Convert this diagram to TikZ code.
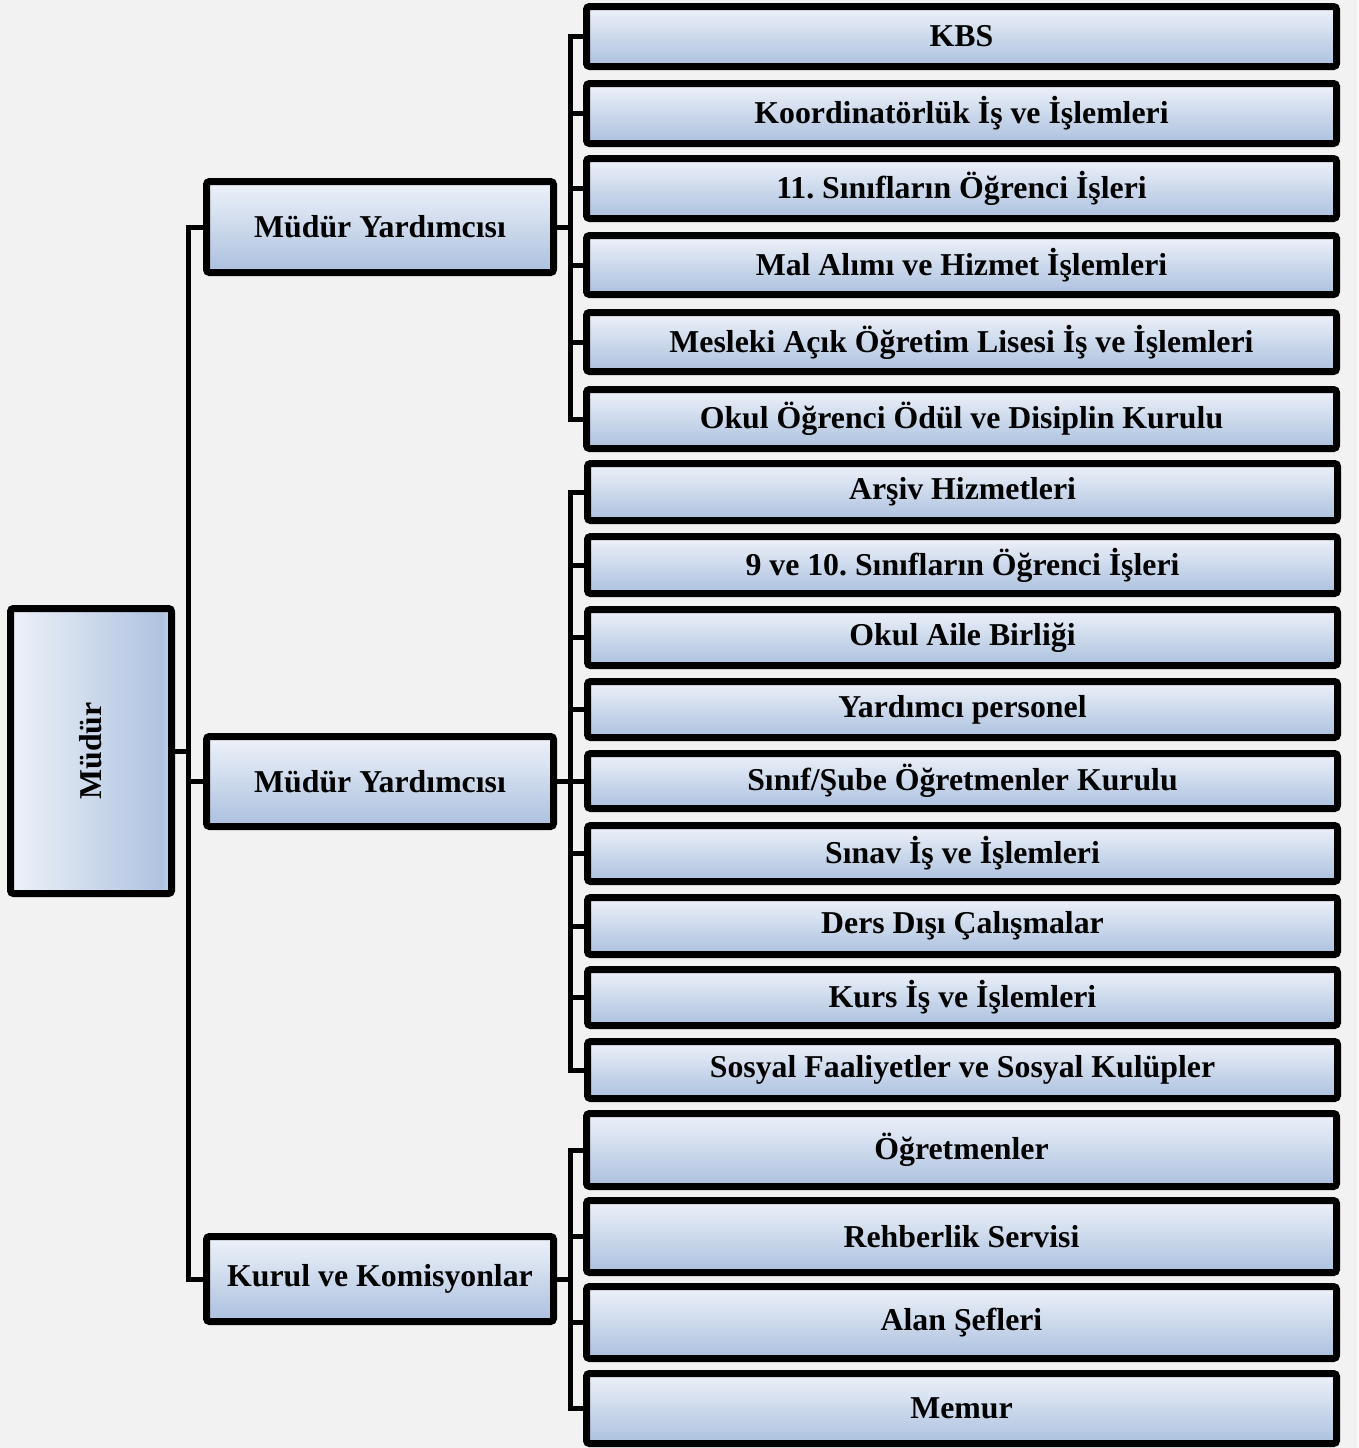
\documentclass[tikz,border=0pt]{standalone}
\usepackage{fontspec}
\setmainfont{Liberation Serif}

\definecolor{pagebg}{HTML}{F2F2F2}
\definecolor{shtop}{HTML}{EEF2F9}
\definecolor{shdark}{HTML}{AFC3E0}
\definecolor{shlow}{HTML}{C6D4E9}
\pgfdeclareverticalshading{boxfill}{100bp}{color(0bp)=(shlow); color(25bp)=(shlow); color(28bp)=(shdark); color(75bp)=(shtop); color(100bp)=(shtop)}
\pgfdeclarehorizontalshading{sidefill}{100bp}{color(0bp)=(shtop); color(25bp)=(shtop); color(72bp)=(shdark); color(75bp)=(shlow); color(100bp)=(shlow)}

\begin{document}
\frenchspacing
\begin{tikzpicture}[x=1pt, y=-1pt,
        box/.style={draw, shade, shading=boxfill, line width=7pt, rounded corners=3pt, inner sep=0pt,
            font=\fontsize{31.8}{36}\selectfont\bfseries},
        lead/.style={box, minimum width=347pt},
        unit/.style={box, minimum width=750pt},
        link/.style={line width=5pt}]
        \fill[pagebg] (0,0) rectangle (1358,1448);
        \useasboundingbox (0,0) rectangle (1358,1448);

        \node[box, shading=sidefill, rotate=90, minimum width=285pt, minimum height=161pt] (mud) at (91,751) {Müdür};

        \node[lead, minimum height=91pt] (my1) at (380,227) {Müdür Yardımcısı};
        \node[lead, minimum height=90pt] (my2) at (380,781.5) {Müdür Yardımcısı};
        \node[lead, minimum height=85pt] (kur) at (380,1279) {Kurul ve Komisyonlar};

        \node[unit, minimum height=60pt] (kbs) at (961.5,36.5) {KBS};
        \node[unit, minimum height=60pt] (koord) at (961.5,113.5) {Koordinatörlük İş ve İşlemleri};
        \node[unit, minimum height=60pt] (ogr11) at (961.5,188.5) {11. Sınıfların Öğrenci İşleri};
        \node[unit, minimum height=59pt] (mal) at (961.5,265) {Mal Alımı ve Hizmet İşlemleri};
        \node[unit, minimum height=59pt] (maol) at (961.5,342) {Mesleki Açık Öğretim Lisesi İş ve İşlemleri};
        \node[unit, minimum height=59pt] (odul) at (961.5,419) {Okul Öğrenci Ödül ve Disiplin Kurulu};

        \node[unit, minimum height=57pt] (arsiv) at (962.5,492) {Arşiv Hizmetleri};
        \node[unit, minimum height=57pt] (ogr910) at (962.5,565) {9 ve 10. Sınıfların Öğrenci İşleri};
        \node[unit, minimum height=56pt] (aile) at (962.5,637.5) {Okul Aile Birliği};
        \node[unit, minimum height=56pt] (pers) at (962.5,709.5) {Yardımcı personel};
        \node[unit, minimum height=55pt] (sube) at (962.5,781) {Sınıf/Şube Öğretmenler Kurulu};
        \node[unit, minimum height=56pt] (sinav) at (962.5,853.5) {Sınav İş ve İşlemleri};
        \node[unit, minimum height=57pt] (ders) at (962.5,926) {Ders Dışı Çalışmalar};
        \node[unit, minimum height=56pt] (kurs) at (962.5,997.5) {Kurs İş ve İşlemleri};
        \node[unit, minimum height=57pt] (sosyal) at (962.5,1070) {Sosyal Faaliyetler ve Sosyal Kulüpler};

        \node[unit, minimum height=73pt] (ogrt) at (961.5,1150) {Öğretmenler};
        \node[unit, minimum height=72pt] (rehber) at (961.5,1236.5) {Rehberlik Servisi};
        \node[unit, minimum height=72pt] (alan) at (961.5,1322.5) {Alan Şefleri};
        \node[unit, minimum height=70pt] (memur) at (961.5,1408.5) {Memur};

        % trunks
        \coordinate (t0) at (188,751);
        \coordinate (t1) at (570,227);
        \coordinate (t2) at (570,781.5);
        \coordinate (t3) at (570,1279);

        \draw[link] (mud.south) -- (t0);
        \draw[link] (my1.west) -| (t0) |- (kur.west);
        \draw[link] (t0) |- (my2.west);

        \draw[link] (my1.east) -- (t1);
        \draw[link] (kbs.west) -| (t1) |- (odul.west);
        \foreach \n in {koord,ogr11,mal,maol}
            \draw[link] (t1) |- (\n.west);

        \draw[link] (my2.east) -- (t2);
        \draw[link] (arsiv.west) -| (t2) |- (sosyal.west);
        \foreach \n in {ogr910,aile,pers,sube,sinav,ders,kurs}
            \draw[link] (t2) |- (\n.west);

        \draw[link] (kur.east) -- (t3);
        \draw[link] (ogrt.west) -| (t3) |- (memur.west);
        \foreach \n in {rehber,alan}
            \draw[link] (t3) |- (\n.west);
    \end{tikzpicture}
\end{document}
